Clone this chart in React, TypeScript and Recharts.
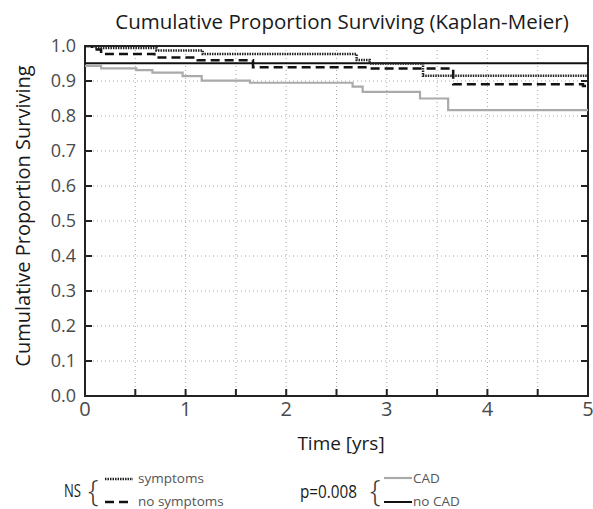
import React from "react";
import {
  LineChart,
  Line,
  XAxis,
  YAxis,
  CartesianGrid,
  ReferenceArea,
} from "recharts";

const WIDTH = 593;
const HEIGHT = 509;
const X_AXIS_H = 30;
const Y_AXIS_W = 40;
const MARGIN = { top: 46, right: 5, bottom: 113 - X_AXIS_H, left: 85 - Y_AXIS_W };
const PLOT_W = WIDTH - 85 - MARGIN.right;
const Y_TICK_MARGIN = 9;
const X_TICK_MARGIN = 6;
const FONT = "'Open Sans', 'DejaVu Sans', sans-serif";

const xTicks = [0, 0.5, 1, 1.5, 2, 2.5, 3, 3.5, 4, 4.5, 5];
const yTicks = [0, 0.1, 0.2, 0.3, 0.4, 0.5, 0.6, 0.7, 0.8, 0.9, 1.0];

// survival steps, time in years
const symptomsTime = [0, 0.1, 0.71, 1.17, 2.7, 2.83, 3.36, 5];
const symptomsSurv = [1.0, 0.994, 0.987, 0.977, 0.96, 0.95, 0.915, 0.915];

const noSymptomsTime = [0, 0.07, 0.16, 0.69, 1.12, 1.67, 2.83, 3.66, 4.95, 5];
const noSymptomsSurv = [1.0, 0.99, 0.977, 0.967, 0.959, 0.939, 0.936, 0.891, 0.886, 0.886];

const cadTime = [0, 0.16, 0.51, 0.67, 0.97, 1.16, 1.64, 2.66, 2.76, 3.33, 3.61, 5];
const cadSurv = [0.943, 0.936, 0.931, 0.924, 0.914, 0.901, 0.895, 0.884, 0.869, 0.85, 0.817, 0.817];

const noCadTime = [0, 5];
const noCadSurv = [0.951, 0.951];

const toPoints = (t: number[], s: number[]) => t.map((v, i) => ({ t: v, s: s[i] }));

const SERIES = [
  { name: "CAD", data: toPoints(cadTime, cadSurv), stroke: "#aaaaaa", width: 2.2, dash: undefined },
  { name: "no CAD", data: toPoints(noCadTime, noCadSurv), stroke: "#111111", width: 2, dash: undefined },
  { name: "no symptoms", data: toPoints(noSymptomsTime, noSymptomsSurv), stroke: "#111111", width: 2.5, dash: "9 5" },
  { name: "symptoms", data: toPoints(symptomsTime, symptomsSurv), stroke: "#222222", width: 2.5, dash: "1.5 1" },
];

const styleOf = (name: string) => SERIES.find((s) => s.name === name)!;

const YTick = (props: any) => {
  const { x, y, payload } = props;
  const ax = x + Y_TICK_MARGIN;
  return (
    <g>
      <line x1={ax} x2={ax + 7} y1={y} y2={y} stroke="#222" strokeWidth={2} />
      <line x1={ax + PLOT_W} x2={ax + PLOT_W - 7} y1={y} y2={y} stroke="#222" strokeWidth={2} />
      <text
        x={x}
        y={y}
        dy="0.36em"
        textAnchor="end"
        fontSize={18}
        fill="#4a4a4a"
        fontFamily={FONT}
      >
        {Number(payload.value).toFixed(1)}
      </text>
    </g>
  );
};

const XTick = (props: any) => {
  const { x, y, payload } = props;
  const ay = y - X_TICK_MARGIN;
  const v = Number(payload.value);
  return (
    <g>
      <line x1={x} x2={x} y1={ay} y2={ay - 7} stroke="#222" strokeWidth={2} />
      {Number.isInteger(v) && (
        <text
          x={x}
          y={y}
          dy="0.71em"
          textAnchor="middle"
          fontSize={20}
          fill="#4a4a4a"
          fontFamily={FONT}
        >
          {v}
        </text>
      )}
    </g>
  );
};

const Sample = ({ name, x, y }: { name: string; x: number; y: number }) => {
  const st = styleOf(name);
  return (
    <line
      x1={x}
      x2={x + 28}
      y1={y}
      y2={y}
      stroke={st.stroke}
      strokeWidth={st.width}
      strokeDasharray={st.dash}
    />
  );
};

export default function App() {
  return (
    <div style={{ position: "absolute", left: 0, top: 0, width: WIDTH, height: HEIGHT, background: "#fff" }}>
      <LineChart width={WIDTH} height={HEIGHT} margin={MARGIN}>
        <CartesianGrid stroke="#a8a8a8" strokeDasharray="1 3" strokeWidth={1} />
        <XAxis
          type="number"
          dataKey="t"
          domain={[0, 5]}
          ticks={xTicks}
          allowDataOverflow
          axisLine={false}
          tickLine={false}
          tickSize={0}
          tickMargin={X_TICK_MARGIN}
          tick={<XTick />}
          height={X_AXIS_H}
        />
        <YAxis
          type="number"
          dataKey="s"
          domain={[0, 1]}
          ticks={yTicks}
          allowDataOverflow
          axisLine={false}
          tickLine={false}
          tickSize={0}
          tickMargin={Y_TICK_MARGIN}
          tick={<YTick />}
          width={Y_AXIS_W}
        />
        {SERIES.map((s) => (
          <Line
            key={s.name}
            data={s.data}
            dataKey="s"
            name={s.name}
            type="stepAfter"
            stroke={s.stroke}
            strokeWidth={s.width}
            strokeDasharray={s.dash}
            dot={false}
            activeDot={false}
            isAnimationActive={false}
          />
        ))}
        <ReferenceArea
          x1={0}
          x2={5}
          y1={0}
          y2={1}
          fill="none"
          fillOpacity={0}
          stroke="#222"
          strokeWidth={2}
          ifOverflow="visible"
        />
      </LineChart>
      <svg
        width={WIDTH}
        height={HEIGHT}
        style={{ position: "absolute", left: 0, top: 0, pointerEvents: "none" }}
        fontFamily={FONT}
      >
        <text x={342} y={29} textAnchor="middle" fontSize={20.5} fill="#1a1a1a">
          Cumulative Proportion Surviving (Kaplan-Meier)
        </text>
        <text
          x={0}
          y={0}
          transform="translate(30 216) rotate(-90)"
          textAnchor="middle"
          fontSize={20}
          fill="#1a1a1a"
        >
          Cumulative Proportion Surviving
        </text>
        <text x={341} y={450} textAnchor="middle" fontSize={19} fill="#1a1a1a">
          Time [yrs]
        </text>

        <text x={64} y={497} fontSize={19} textLength={17} lengthAdjust="spacingAndGlyphs" fill="#1a1a1a">NS</text>
        <text x={88} y={501} fontSize={30} fontWeight={300} fill="#333">{"{"}</text>
        <Sample name="symptoms" x={105} y={479} />
        <text x={138} y={483} fontSize={13.5} fill="#555">symptoms</text>
        <Sample name="no symptoms" x={105} y={502} />
        <text x={138} y={506} fontSize={13.5} fill="#555">no symptoms</text>

        <text x={300} y={498} fontSize={18} textLength={57} lengthAdjust="spacingAndGlyphs" fill="#1a1a1a">p=0.008</text>
        <text x={370} y={501} fontSize={30} fontWeight={300} fill="#333">{"{"}</text>
        <Sample name="CAD" x={384} y={478} />
        <text x={413} y={483} fontSize={13.5} fill="#555">CAD</text>
        <Sample name="no CAD" x={384} y={502} />
        <text x={413} y={506} fontSize={13.5} fill="#555">no CAD</text>
      </svg>
    </div>
  );
}
